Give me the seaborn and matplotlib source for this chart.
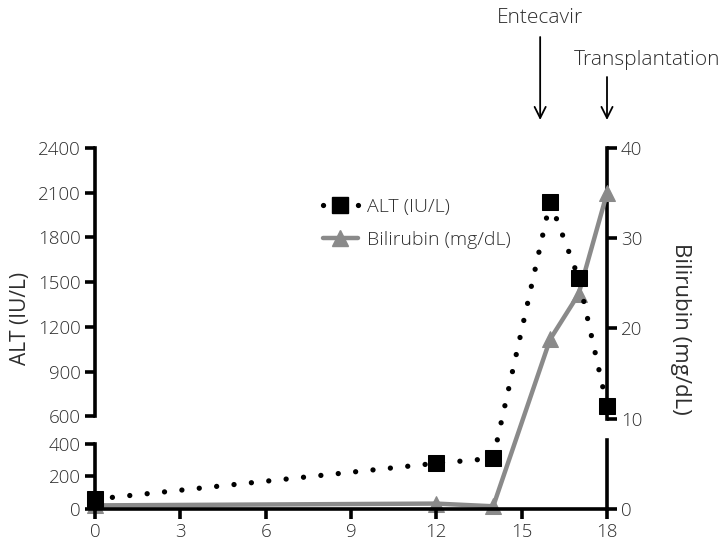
import numpy as np
import pandas as pd
import matplotlib
matplotlib.use("Agg")
import matplotlib.pyplot as plt
from matplotlib.spines import Spine
from matplotlib.lines import Line2D
import seaborn as sns

# ---- data ----
alt_months = [0, 12, 14, 16, 17, 18]
alt_values = [60, 280, 310, 2040, 1530, 670]
bili_months = [0, 12, 14, 16, 17, 18]
bili_values = [0.4, 0.6, 0.3, 18.8, 23.8, 35.0]
x_ticks = [0, 3, 6, 9, 12, 15, 18]
alt_ticks = [0, 200, 400, 600, 900, 1200, 1500, 1800, 2100, 2400]
bili_ticks = [0, 10, 20, 30, 40]
events = ["Entecavir", "Transplantation"]
event_months = [15.65, 18]

sns.set_style("ticks")
plt.rcParams["font.family"] = ["Open Sans", "DejaVu Sans"]
plt.rcParams["font.weight"] = "light"
TXT = "#2e2e2e"

alt_df = pd.DataFrame({"Month": alt_months, "ALT": alt_values})
bili_df = pd.DataFrame({"Month": bili_months, "Bilirubin": bili_values})

# broken (piecewise-linear) scale for ALT axis
_xp = np.array([-1e5, 0, 400, 600, 2400, 1e5])
_fp = np.array([-1e5 * 65 / 400, 0, 65, 92, 359, 359 + (1e5 - 2400) * 267 / 1800])
def fwd(v):
    return np.interp(v, _xp, _fp)
def inv(v):
    return np.interp(v, _fp, _xp)

fig = plt.figure(figsize=(7.25, 5.55), dpi=100)
ax = fig.add_axes([95 / 725, (555 - 509) / 555, 512 / 725, 361 / 555])
ax2 = ax.twinx()
ax.set_zorder(ax2.get_zorder() + 1)
ax.patch.set_visible(False)

ax.set_yscale("function", functions=(fwd, inv))
ax.set_ylim(0, 2400)
ax.set_xlim(0, 18)
ax2.set_ylim(0, 40)

LW_AX = 2.6
# ALT series
sns.lineplot(data=alt_df, x="Month", y="ALT", ax=ax, color="black",
             marker="s", markersize=12, markeredgecolor="black",
             linestyle=(0, (0.01, 3.3)), linewidth=3.8,
             dash_capstyle="round", clip_on=False, zorder=5)
# Bilirubin series
sns.lineplot(data=bili_df, x="Month", y="Bilirubin", ax=ax2, color="#8a8a8a",
             marker="^", markersize=12, markeredgecolor="#8a8a8a",
             linewidth=3.2, clip_on=False, zorder=4)

# spines / ticks
for s in ["top", "right"]:
    ax.spines[s].set_visible(False)
for s in ["top", "left", "bottom"]:
    ax2.spines[s].set_visible(False)
ax.spines["left"].set_bounds(600, 2400)
low = Spine.linear_spine(ax, "left")
low.set_position(("outward", 0))
low.set_bounds(0, 400)
ax.spines["left_low"] = low
for sp in [ax.spines["left"], low, ax.spines["bottom"]]:
    sp.set_linewidth(LW_AX)
    sp.set_color("black")
ax2.spines["right"].set_bounds(10, 40)
low2 = Spine.linear_spine(ax2, "right")
low2.set_position(("outward", 0))
low2.set_bounds(0, 7.7)
ax2.spines["right_low"] = low2
for sp in [ax2.spines["right"], low2]:
    sp.set_linewidth(LW_AX)
    sp.set_color("black")

ax.set_xticks(x_ticks)
ax.set_xticklabels([str(t) for t in x_ticks])
ax.set_yticks(alt_ticks)
ax.set_yticklabels([str(t) for t in alt_ticks])
ax2.set_yticks(bili_ticks)
ax2.set_yticklabels([str(t) for t in bili_ticks])
ax.minorticks_off()
for a in (ax, ax2):
    a.tick_params(axis="both", width=LW_AX, length=7, color="black",
                  labelsize=13.5, labelcolor=TXT, pad=3)

ax.set_xlabel("")
ax.set_ylabel("ALT (IU/L)", fontsize=15, color=TXT, va="center")
ax.yaxis.set_label_coords(-0.146, 0.529)
ax2.set_ylabel("Bilirubin (mg/dL)", fontsize=16, color=TXT, rotation=270,
               va="center")
ax2.yaxis.set_label_coords(1.143, 0.5)

# legend
handles = [
    Line2D([], [], color="black", marker="s", markersize=12,
           linestyle=(0, (0.01, 3.3)), linewidth=3.8, dash_capstyle="round"),
    Line2D([], [], color="#8a8a8a", marker="^", markersize=12, linewidth=3.2),
]
leg = ax.legend(handles, ["ALT (IU/L)", "Bilirubin (mg/dL)"],
                loc="upper left", bbox_to_anchor=(305 / 725, 1 - 180 / 555),
                bbox_transform=fig.transFigure, frameon=False, fontsize=14,
                handlelength=1.8, handletextpad=0.5, labelspacing=0.8)
for t in leg.get_texts():
    t.set_color(TXT)

# event annotations
tip_y = 1 - 120 / 555
starts = [1 - 37 / 555, 1 - 77 / 555]
text_pos = [(540 / 725, 1 - 18 / 555), (647 / 725, 1 - 60 / 555)]
for name, m, sy, tp in zip(events, event_months, starts, text_pos):
    xf = fig.transFigure.inverted().transform(ax.transData.transform((m, 0)))[0]
    ax.annotate("", xy=(xf, tip_y), xycoords="figure fraction",
                xytext=(xf, sy), textcoords="figure fraction",
                arrowprops=dict(arrowstyle="->", lw=1.3, color="black",
                                mutation_scale=20, shrinkA=0, shrinkB=0))
    fig.text(tp[0], tp[1], name, ha="center", va="center", fontsize=15,
             color=TXT)

fig.savefig("out.png", dpi=100)
